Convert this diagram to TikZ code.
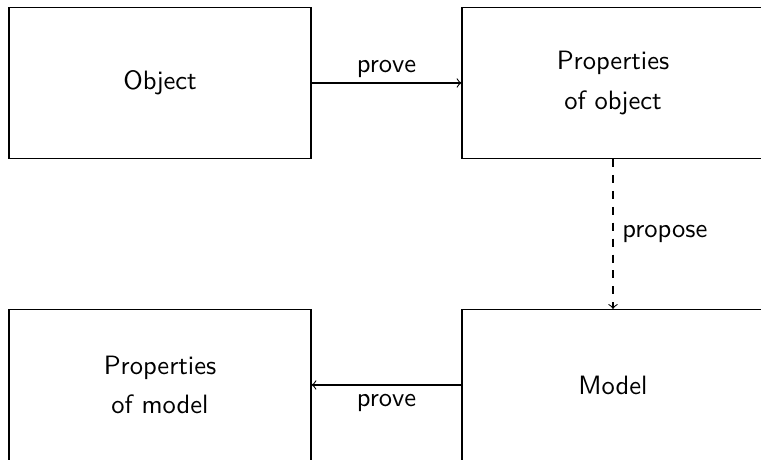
\documentclass[tikz,border=0pt]{standalone}
\begin{document}
\begin{tikzpicture}[x=0.013245cm, y=-0.013245cm, font=\sffamily,
  box/.style={draw, rectangle, minimum width=4cm, minimum height=2cm, inner sep=0pt, align=center},
  link/.style={->}]
\useasboundingbox (0,0) rectangle (761,460);
\clip (0,0) rectangle (761,460);
\node[box] (obj) at (160,83) {Object};
\node[box] (pobj) at (613,83) {Properties\\[3pt]of object};
\node[box] (model) at (613,385) {Model};
\node[box] (pmodel) at (160,385) {Properties\\[3pt]of model};
\draw[link] (obj) -- node[above, inner sep=2pt] {prove} (pobj);
\draw[link, dashed] (pobj) -- node[right] {propose} (model);
\draw[link] (model) -- node[below] {prove} (pmodel);
\end{tikzpicture}
\end{document}
